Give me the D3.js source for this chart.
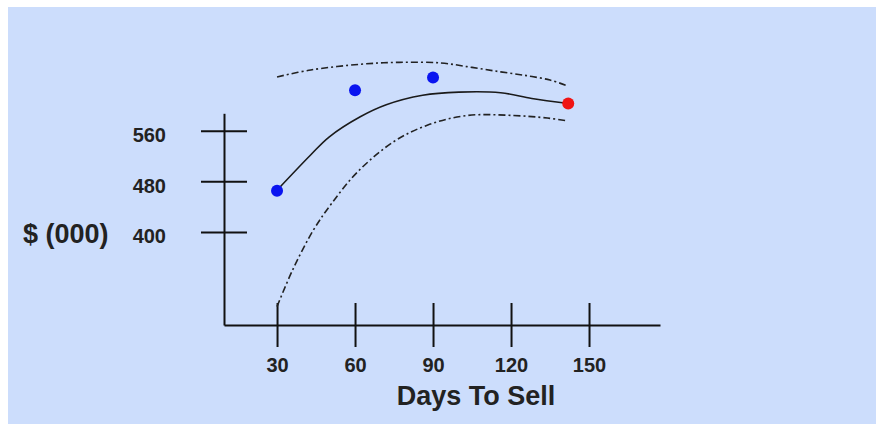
<!DOCTYPE html>
<html>
<head>
<meta charset="utf-8">
<script src="https://cdn.jsdelivr.net/npm/d3@7"></script>
<style>
  body { margin: 0; background: #fff; }
  svg text { font-family: "Liberation Sans", Arial, sans-serif; font-weight: bold; fill: #222; }
</style>
</head>
<body>
<svg width="876" height="424"></svg>
<script>
//Data
var xTicks = [30, 60, 90, 120, 150];
var yTicks = [400, 480, 560];

var obsDays = [30, 60, 90];
var obsValues = [465, 624, 644];
var predDay = 142;
var predValue = 603;

var fitDays = [30, 43, 50, 62, 72, 86, 100, 116, 128, 142];
var fitValues = [466, 522, 550, 582, 601, 616, 621, 620, 611, 603];

var upperDays = [30, 43, 62, 77, 93, 105, 116, 126, 135, 141];
var upperValues = [645, 656, 665, 668, 667, 660, 653, 647, 640, 632];

var lowerDays = [30, 36, 44, 51, 61, 75, 88, 103, 121, 134, 141];
var lowerValues = [282, 340, 403, 445, 495, 543, 569, 584, 584, 580, 576];

//Layout
var svg = d3.select("svg");
var axisColor = "#111";

var x = d3.scaleLinear().domain([9.6, 177.3]).range([224, 660]);
var y = d3.scaleLinear().domain([253, 587.5]).range([325, 113.3]);

drawBackground();
drawAxes();
drawCurves();
drawPoints();
drawTitles();

function drawBackground() {
    svg.append("rect")
        .attr("x", 8)
        .attr("y", 7)
        .attr("width", 868)
        .attr("height", 417)
        .attr("fill", "#ccddfc");
}

function drawAxes() {
    var xAxis = svg.append("g")
        .attr("transform", "translate(0," + y.range()[0] + ")")
        .call(d3.axisBottom(x).tickValues(xTicks).tickSizeInner(22).tickSizeOuter(0));
    xAxis.selectAll(".tick line").attr("y1", -22);
    xAxis.selectAll(".tick text")
        .attr("y", 47)
        .attr("dy", 0)
        .style("font-size", "20px");

    var yAxis = svg.append("g")
        .attr("transform", "translate(" + x.range()[0] + ",0)")
        .call(d3.axisLeft(y).tickValues(yTicks).tickSizeInner(23).tickSizeOuter(0));
    yAxis.selectAll(".tick line").attr("x1", 23);
    yAxis.selectAll(".tick text")
        .attr("x", -58)
        .attr("dy", 11)
        .style("font-size", "20px");

    svg.selectAll(".domain, .tick line")
        .attr("stroke", axisColor)
        .attr("stroke-width", 2);
    svg.selectAll(".tick text").attr("fill", "#222");
}

function drawCurves() {
    var line = d3.line()
        .x(function(d) { return x(d[0]); })
        .y(function(d) { return y(d[1]); })
        .curve(d3.curveCatmullRom.alpha(0.5));

    svg.append("path")
        .datum(d3.zip(fitDays, fitValues))
        .attr("d", line)
        .attr("fill", "none")
        .attr("stroke", "#1a1a1a")
        .attr("stroke-width", 1.6);

    [d3.zip(upperDays, upperValues), d3.zip(lowerDays, lowerValues)].forEach(function(band) {
        svg.append("path")
            .datum(band)
            .attr("d", line)
            .attr("fill", "none")
            .attr("stroke", "#222")
            .attr("stroke-width", 1.6)
            .attr("stroke-dasharray", "7,3,2,3");
    });
}

function drawPoints() {
    svg.selectAll(".obs")
        .data(d3.zip(obsDays, obsValues))
        .enter().append("circle")
        .attr("class", "obs")
        .attr("cx", function(d) { return x(d[0]); })
        .attr("cy", function(d) { return y(d[1]); })
        .attr("r", 6)
        .attr("fill", "#0a14f0");

    svg.append("circle")
        .attr("cx", x(predDay))
        .attr("cy", y(predValue))
        .attr("r", 6)
        .attr("fill", "#f01414");
}

function drawTitles() {
    svg.append("text")
        .attr("x", 23)
        .attr("y", 243)
        .style("font-size", "27px")
        .text("$ (000)");

    svg.append("text")
        .attr("x", 476)
        .attr("y", 405)
        .attr("text-anchor", "middle")
        .style("font-size", "27px")
        .text("Days To Sell");
}
</script>
</body>
</html>
